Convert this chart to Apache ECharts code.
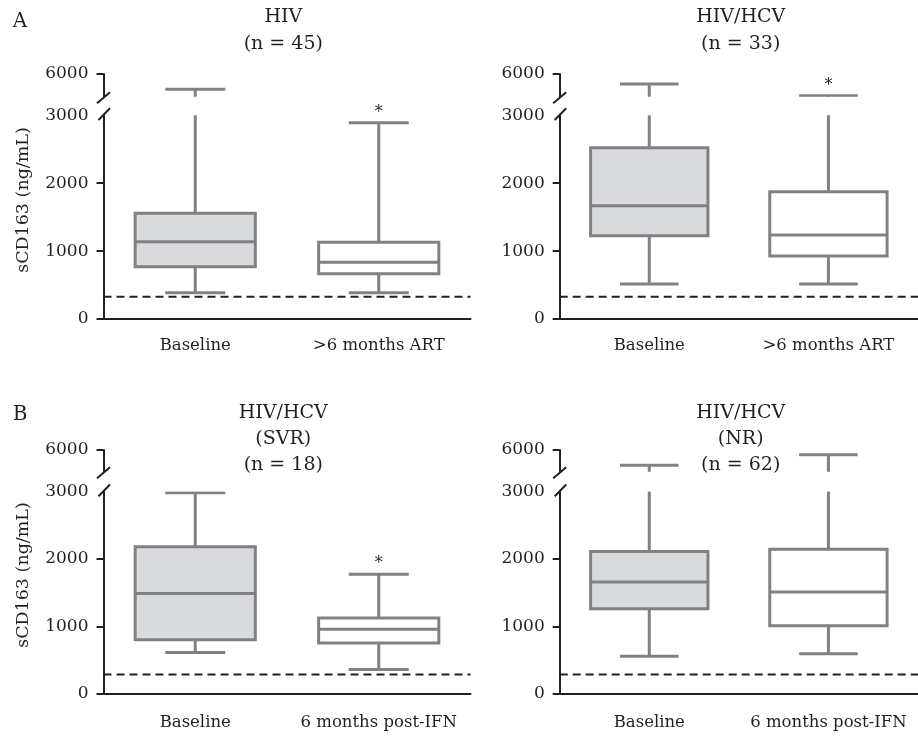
<!DOCTYPE html>
<html><head><meta charset="utf-8">
<script src="https://cdn.jsdelivr.net/npm/echarts@6/dist/echarts.min.js"></script>
<style>html,body{margin:0;padding:0;background:#fff}#c{width:918px;height:736px}</style>
</head><body><div id="c"></div>
<script>
// ---------- data ----------
const categoriesA = ['Baseline', '>6 months ART'];
const categoriesB = ['Baseline', '6 months post-IFN'];
const lowerTicks = [0, 1000, 2000, 3000];
const upperTicks = [6000];
const lowerRange = [0, 3000];
const upperRange = [3000, 6000];
// [min, Q1, median, Q3, max]
const hivBaseline = [387, 770, 1138, 1557, 3978];
const hivART      = [387, 667, 835, 1130, 2891];
const hcvBaseline = [515, 1227, 1669, 2523, 4678];
const hcvART      = [515, 928, 1237, 1875, 3132];
const svrBaseline = [616, 805, 1488, 2180, 2982];
const svrPostIFN  = [364, 754, 958, 1126, 1775];
const nrBaseline  = [560, 1262, 1658, 2110, 3885];
const nrPostIFN   = [595, 1012, 1510, 2146, 5350];
const cutoffs = [328, 328, 290, 290];
const significant = [[false, true], [false, true], [false, true], [false, false]];
const titles = ['HIV\n(n = 45)', 'HIV/HCV\n(n = 33)', 'HIV/HCV\n(SVR)\n(n = 18)', 'HIV/HCV\n(NR)\n(n = 62)'];
const panelLetters = ['A', 'B'];
const yName = 'sCD163 (ng/mL)';

const panelData = [
  {cats: categoriesA, boxes: [hivBaseline, hivART]},
  {cats: categoriesA, boxes: [hcvBaseline, hcvART]},
  {cats: categoriesB, boxes: [svrBaseline, svrPostIFN]},
  {cats: categoriesB, boxes: [nrBaseline, nrPostIFN]}
];

// ---------- layout ----------
const FONT = 'DejaVu Serif';
const INK = '#231f20';
const BOXC = '#808184';
const FILLS = ['#d9dadb', '#ffffff'];
const layout = [
  {left: 103.5, uTop: 74, uH: 22.7, lTop: 115.3, lH: 203.7, tx: 283.3, tTop: 4, lh: 27, lm: 18},
  {left: 559.7, uTop: 74, uH: 22.7, lTop: 115.3, lH: 203.7, tx: 740.7, tTop: 4, lh: 27, lm: 18},
  {left: 103.5, uTop: 450, uH: 21.7, lTop: 491.5, lH: 202.5, tx: 283.3, tTop: 400.5, lh: 26, lm: 20},
  {left: 559.7, uTop: 450, uH: 21.7, lTop: 491.5, lH: 202.5, tx: 740.7, tTop: 400.5, lh: 26, lm: 20}
];
const GW = 367;

function makeRenderBox(range, part) {
  return function (params, api) {
    const cat = api.value(0);
    const v = [1, 2, 3, 4, 5].map(i => api.value(i));
    const p = v.map(val => api.coord([cat, val]));
    const band = api.size([1, 0])[0];
    const bw = band * 0.655, cw = band * 0.327;
    const x = p[2][0];
    const st = {stroke: BOXC, lineWidth: 3, fill: null};
    const kids = [];
    const maxIn = v[4] >= range[0] && v[4] <= range[1];
    if (v[4] >= range[0]) kids.push({type: 'line', shape: {x1: x, y1: p[3][1], x2: x, y2: p[4][1]}, style: st});
    if (maxIn) kids.push({type: 'line', shape: {x1: x - cw / 2, y1: p[4][1], x2: x + cw / 2, y2: p[4][1]}, style: st});
    if (part === 'lower') {
      kids.push({type: 'line', shape: {x1: x, y1: p[1][1], x2: x, y2: p[0][1]}, style: st});
      kids.push({type: 'line', shape: {x1: x - cw / 2, y1: p[0][1], x2: x + cw / 2, y2: p[0][1]}, style: st});
      kids.push({type: 'rect', shape: {x: x - bw / 2, y: p[3][1], width: bw, height: p[1][1] - p[3][1]},
        style: {fill: FILLS[cat], stroke: BOXC, lineWidth: 3}});
      kids.push({type: 'line', shape: {x1: x - bw / 2, y1: p[2][1], x2: x + bw / 2, y2: p[2][1]}, style: st});
    }
    return {type: 'group', children: kids};
  };
}
function renderStar(params, api) {
  const p = api.coord([api.value(0), api.value(1)]);
  return {type: 'text', x: p[0], y: p[1] - 10,
    style: {text: '*', fontFamily: FONT, fontSize: 16, fill: INK, align: 'center', verticalAlign: 'middle'}};
}
function renderCutoff(params, api) {
  const cs = params.coordSys;
  const y = api.coord([0, api.value(1)])[1];
  return {type: 'line', shape: {x1: cs.x, y1: y, x2: cs.x + cs.width, y2: y},
    style: {stroke: INK, lineWidth: 2, lineDash: [8, 5]}};
}
function renderBreakUpper(params, api) {
  const cs = params.coordSys; const ax = cs.x; const b = cs.y + cs.height;
  return {type: 'line', shape: {x1: ax + 6.5, y1: b - 4.5, x2: ax - 6.5, y2: b + 6.5},
    style: {stroke: INK, lineWidth: 2}};
}
function renderBreakLower(params, api) {
  const cs = params.coordSys; const ax = cs.x; const t = cs.y;
  return {type: 'line', shape: {x1: ax + 6.5, y1: t - 7, x2: ax - 5, y2: t + 4.7},
    style: {stroke: INK, lineWidth: 2}};
}

const grid = [], xAxis = [], yAxis = [], series = [], title = [], graphic = [];
const axisTxt = {fontFamily: FONT, color: INK};
const plain = v => String(v);
panelData.forEach((pd, i) => {
  const L = layout[i];
  grid.push({left: L.left, top: L.uTop, width: GW, height: L.uH});
  grid.push({left: L.left, top: L.lTop, width: GW, height: L.lH});
  const ui = 2 * i, li = 2 * i + 1;
  xAxis.push({gridIndex: ui, type: 'category', data: pd.cats, show: false});
  xAxis.push({gridIndex: li, type: 'category', data: pd.cats,
    axisLine: {lineStyle: {color: INK, width: 2}},
    axisTick: {alignWithLabel: true, length: 7, lineStyle: {color: INK, width: 2}},
    axisLabel: Object.assign({fontSize: 16.5, margin: L.lm, interval: 0}, axisTxt)});
  yAxis.push({gridIndex: ui, type: 'value', min: upperRange[0], max: upperRange[1], interval: 3000,
    splitLine: {show: false},
    axisLine: {show: true, lineStyle: {color: INK, width: 2}},
    axisTick: {show: true, length: 7, customValues: upperTicks, lineStyle: {color: INK, width: 2}},
    axisLabel: Object.assign({fontSize: 17, margin: 15, customValues: upperTicks, formatter: plain}, axisTxt)});
  yAxis.push({gridIndex: li, type: 'value', min: lowerRange[0], max: lowerRange[1], interval: 1000,
    splitLine: {show: false},
    axisLine: {show: true, lineStyle: {color: INK, width: 2}},
    axisTick: {show: true, length: 7, customValues: lowerTicks.slice(0, 3), lineStyle: {color: INK, width: 2}},
    axisLabel: Object.assign({fontSize: 17, margin: 15, customValues: lowerTicks, formatter: plain}, axisTxt)});
  const boxData = pd.boxes.map((b, c) => [c].concat(b));
  series.push({type: 'custom', xAxisIndex: ui, yAxisIndex: ui, clip: true, renderItem: makeRenderBox(upperRange, 'upper'), data: boxData, z: 3});
  series.push({type: 'custom', xAxisIndex: li, yAxisIndex: li, clip: true, renderItem: makeRenderBox(lowerRange, 'lower'), data: boxData, z: 3});
  series.push({type: 'custom', xAxisIndex: li, yAxisIndex: li, clip: false, renderItem: renderCutoff, data: [[0, cutoffs[i]]], z: 2});
  series.push({type: 'custom', xAxisIndex: ui, yAxisIndex: ui, clip: false, renderItem: renderBreakUpper, data: [[0, 6000]], z: 4});
  series.push({type: 'custom', xAxisIndex: li, yAxisIndex: li, clip: false, renderItem: renderBreakLower, data: [[0, 0]], z: 4});
  const upStars = [], lowStars = [];
  pd.boxes.forEach((b, c) => {
    if (significant[i][c]) (b[4] > lowerRange[1] ? upStars : lowStars).push([c, b[4]]);
  });
  if (upStars.length) series.push({type: 'custom', xAxisIndex: ui, yAxisIndex: ui, clip: false, renderItem: renderStar, data: upStars, z: 5});
  if (lowStars.length) series.push({type: 'custom', xAxisIndex: li, yAxisIndex: li, clip: false, renderItem: renderStar, data: lowStars, z: 5});
  title.push({text: titles[i], left: L.tx, top: L.tTop, textAlign: 'center', padding: 0,
    textStyle: {fontFamily: FONT, fontSize: 19, fontWeight: 'normal', color: INK, lineHeight: L.lh}});
});
graphic.push({type: 'text', x: 23.3, y: 200, rotation: Math.PI / 2,
  style: {text: yName, fontFamily: FONT, fontSize: 17.5, fill: INK, align: 'center', verticalAlign: 'middle'}});
graphic.push({type: 'text', x: 23.3, y: 575, rotation: Math.PI / 2,
  style: {text: yName, fontFamily: FONT, fontSize: 17.5, fill: INK, align: 'center', verticalAlign: 'middle'}});
graphic.push({type: 'text', x: 20, y: 21.5,
  style: {text: panelLetters[0], fontFamily: FONT, fontSize: 20, fill: INK, align: 'center', verticalAlign: 'middle'}});
graphic.push({type: 'text', x: 20, y: 415,
  style: {text: panelLetters[1], fontFamily: FONT, fontSize: 20, fill: INK, align: 'center', verticalAlign: 'middle'}});

const chart = echarts.init(document.getElementById('c'), null, {renderer: 'canvas'});
chart.setOption({animation: false, backgroundColor: '#fff', title, grid, xAxis, yAxis, series, graphic});
</script></body></html>
